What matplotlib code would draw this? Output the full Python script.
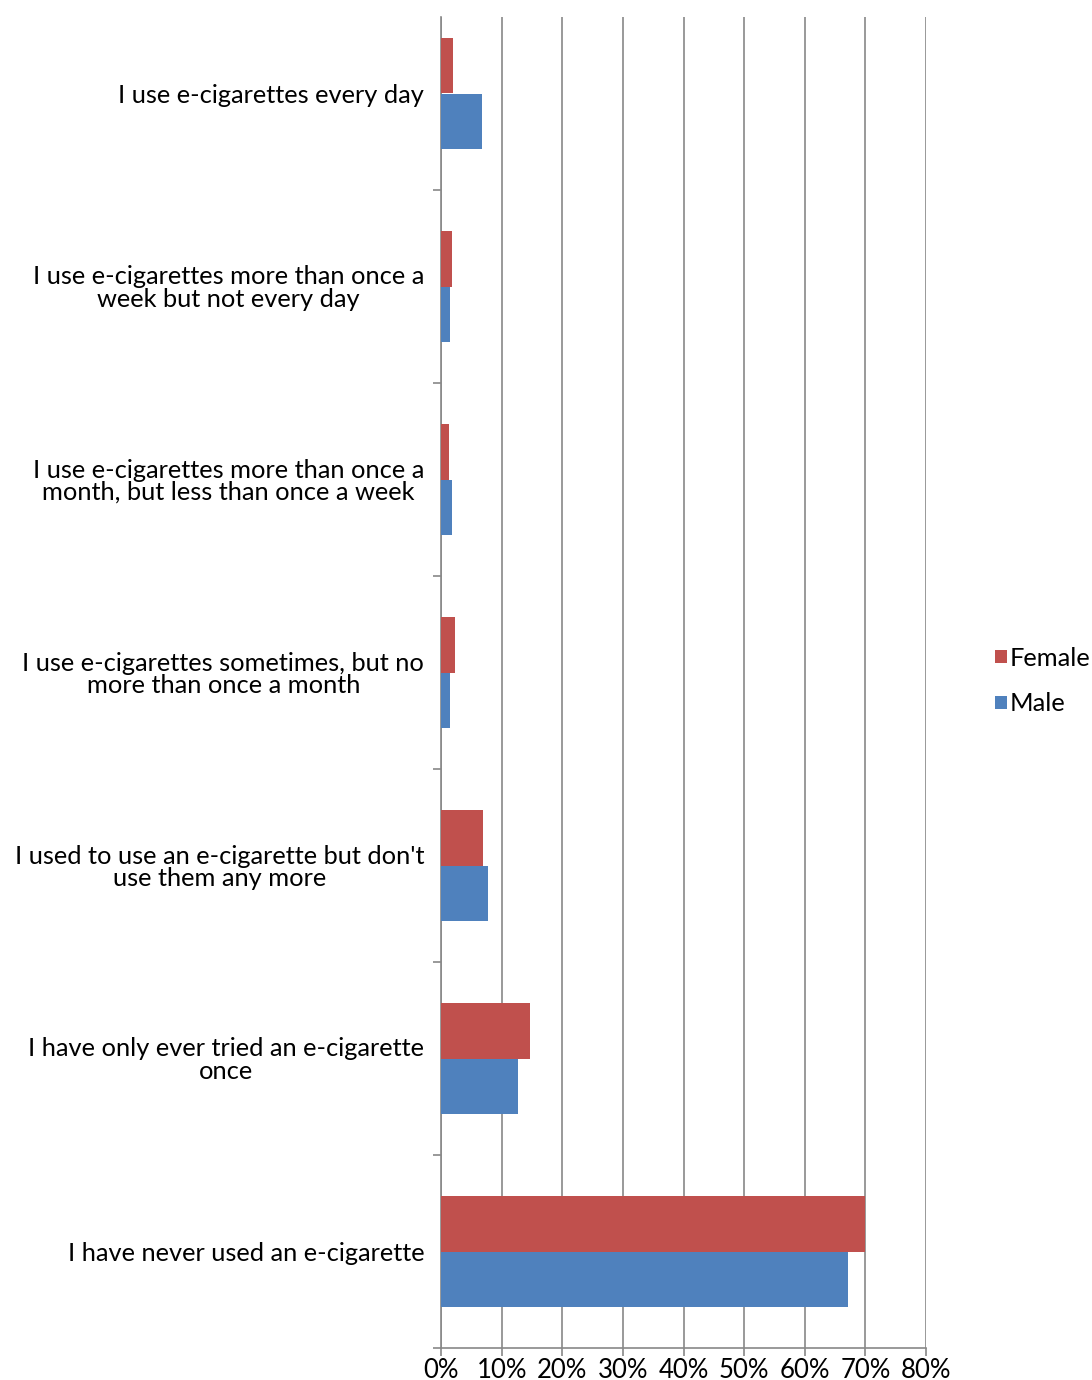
import matplotlib
matplotlib.use("Agg")
import matplotlib.pyplot as plt
import numpy as np

categories = [
    "I use e-cigarettes every day",
    "I use e-cigarettes more than once a\nweek but not every day",
    "I use e-cigarettes more than once a\nmonth, but less than once a week",
    "I use e-cigarettes sometimes, but no\nmore than once a month",
    "I used to use an e-cigarette but don't\nuse them any more",
    "I have only ever tried an e-cigarette\nonce",
    "I have never used an e-cigarette",
]
female = [2.0, 1.8, 1.3, 2.3, 7.0, 14.7, 70.0]
male = [6.8, 1.5, 1.8, 1.5, 7.8, 12.7, 67.2]
xticks = [0, 10, 20, 30, 40, 50, 60, 70, 80]

plt.rcParams["font.family"] = ["Lato", "DejaVu Sans"]

fig = plt.figure(figsize=(10.92, 13.8), dpi=100)
ax = fig.add_axes([441 / 1092, 1 - 1348 / 1380, (926 - 441) / 1092, (1348 - 17) / 1380])

n = len(categories)
y = np.arange(n)
h = 0.285
ax.barh(y - h / 2, female, height=h, color="#C0504D", label="Female", zorder=3)
ax.barh(y + h / 2, male, height=h, color="#4F81BD", label="Male", zorder=3)

# the top band is partly trimmed by the frame
ax.set_ylim(n - 0.5, -0.5 + 20 / 193)
ax.set_xlim(0, 80)
ax.set_xticks(xticks)
ax.set_xticklabels([f"{v}%" for v in xticks], fontsize=18.5)
ax.set_yticks(y)
ax.set_yticklabels(categories, fontsize=18.3, linespacing=0.95)
for lbl in ax.get_yticklabels():
    lbl.set_multialignment("center")

ax.set_yticks(np.arange(1, n + 1) - 0.5, minor=True)
ax.tick_params(axis="y", which="major", length=0, pad=12)
ax.tick_params(axis="y", which="minor", length=6, color="#888888", width=1.2)
ax.tick_params(axis="x", length=6, color="#888888", width=1.2, pad=1)

ax.grid(axis="x", color="#888888", linewidth=1.2, zorder=0)
for s in ["top", "right"]:
    ax.spines[s].set_visible(False)
for s in ["left", "bottom"]:
    ax.spines[s].set_color("#888888")
    ax.spines[s].set_linewidth(1.2)

fig.legend(loc="center left", bbox_to_anchor=(985 / 1092, 1 - 681 / 1380), frameon=False,
           fontsize=18.3, handlelength=0.45, handleheight=0.45, handletextpad=0.1,
           labelspacing=0.9, borderaxespad=0)

fig.savefig("out.png", dpi=100)
